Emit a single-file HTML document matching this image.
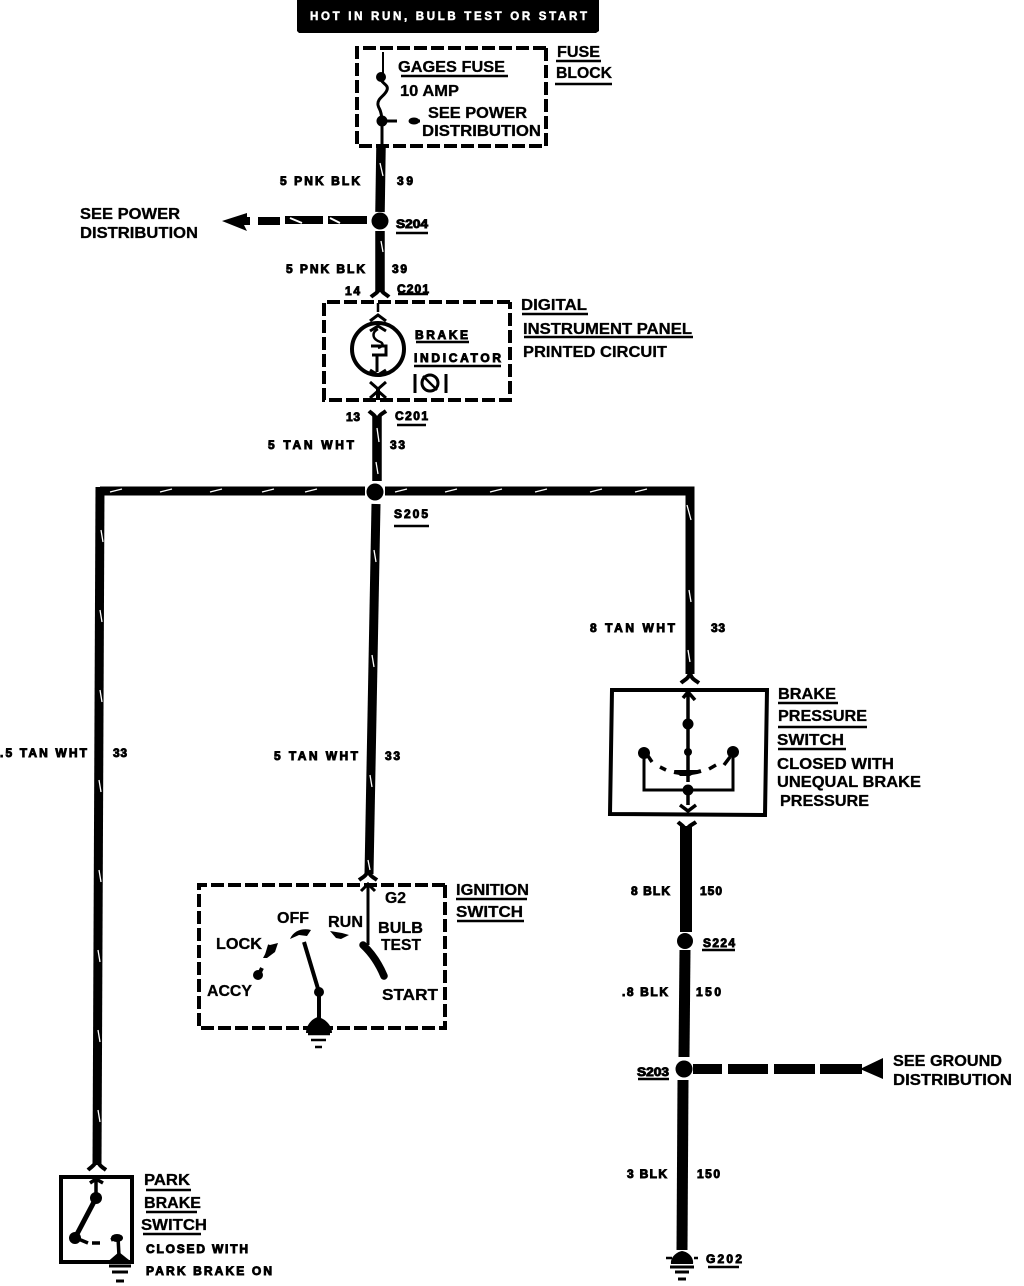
<!DOCTYPE html>
<html><head><meta charset="utf-8"><title>Brake indicator wiring diagram</title>
<style>
html,body{margin:0;padding:0;background:#fff}
svg{display:block}
text{font-family:"Liberation Sans",sans-serif;font-weight:bold;fill:#000;stroke:#000;stroke-width:.3}
.s{font-size:12px;stroke-width:.9}
.m{font-size:16px}
.w{fill:#fff;stroke:#fff;font-size:11.5px;stroke-width:.5}
</style></head><body>
<svg xmlns="http://www.w3.org/2000/svg" width="1024" height="1286" viewBox="0 0 1024 1286">
<rect width="1024" height="1286" fill="#fff"/>
<!-- banner -->
<path d="M297 0H599V31L596 33H299L297 31Z" fill="#000"/>
<text class="w" x="310" y="20" textLength="277" lengthAdjust="spacing">HOT IN RUN, BULB TEST OR START</text>

<g fill="none" stroke="#000" stroke-linecap="butt">
<!-- dashed boxes -->
<path d="M546 48H357V146H546V48" stroke-width="4" stroke-dasharray="13 4"/>
<path d="M510 302H324V400H510V302" stroke-width="4" stroke-dasharray="13 4"/>
<path d="M445 885H199V1028H445V885" stroke-width="4" stroke-dasharray="13 4"/>
<!-- solid boxes -->
<path d="M612 690H767L765 815L610 814Z" stroke-width="4"/>
<path d="M61 1177H132V1262H61Z" stroke-width="4"/>
<!-- wires -->
<path d="M381 146L380 212" stroke-width="9.5"/>
<path d="M380 231V292" stroke-width="9.5"/>
<path d="M377 416V481" stroke-width="9.5"/>
<path d="M100 491H365M385 491H690V674" stroke-width="9"/>
<path d="M100 487L97 1165" stroke-width="9"/>
<path d="M376 504L369 874" stroke-width="9"/>
<path d="M686 826V932" stroke-width="12"/>
<path d="M685 950L684 1057" stroke-width="11"/>
<path d="M683 1080L682 1250" stroke-width="11"/>
<path d="M693 1069H722M728 1069H768M774 1069H815M820 1069H862" stroke-width="10"/>
<!-- dash left -->
<path d="M367 220H328M323 220H285M280 221H258M250 221H240" stroke-width="8"/>
<!-- fuse inner -->
<path d="M383 52V76" stroke-width="2"/>
<path d="M381 78C381 84 389 84 387 90C385 96 377 98 378 105C379 110 381 108 382 120V146" stroke-width="3"/>
<path d="M382 121H397" stroke-width="3"/>
<path d="M409 121H420" stroke-width="3"/>
<!-- indicator -->
<circle cx="378" cy="349" r="26" stroke-width="4"/>
<path d="M370 321L378 315L386 321M370 331L378 326L386 331" stroke-width="3"/>
<path d="M378 303V312M378 329C372 332 372 338 378 341C384 343 384 346 378 348" stroke-width="2.5"/>
<path d="M371 346H386V355H372M377 355V372" stroke-width="3"/>
<path d="M370 370L378 375L386 370M370 382L378 389L386 382M370 398L378 391L386 398" stroke-width="3"/>
<path d="M378 389V400" stroke-width="4"/>
<path d="M415 374V393M446 374V393" stroke-width="3"/>
<circle cx="430" cy="383" r="8" stroke-width="3"/>
<path d="M423 376L437 390" stroke-width="2.5"/>
<!-- forks -->
<path d="M371 297C374 294 379 293 380 286C381 293 386 294 389 297" stroke-width="4"/>
<path d="M369 411C372 414 376 415 377 422C378 415 382 414 386 411" stroke-width="4"/>
<path d="M681 683C684 680 689 679 690 672C691 679 695 680 699 683" stroke-width="4"/>
<path d="M678 822C681 825 685 826 686 833C687 826 692 825 696 822" stroke-width="4"/>
<path d="M359 880C363 877 367 876 368 869C369 876 373 877 377 880" stroke-width="4"/>
<path d="M88 1170C91 1167 96 1165 97 1158C98 1165 102 1167 106 1170" stroke-width="4"/>
<!-- brake switch inside -->
<path d="M683 698L688 692L695 700M688 692V782" stroke-width="3.5"/>
<path d="M644 755V790H733V754" stroke-width="3"/>
<path d="M688 790V805M680 805L688 811L696 805" stroke-width="3.5"/>
<path d="M674 772Q688 775 701 771" stroke-width="4"/>
<path d="M648 756L652 762M660 767L666 770M709 769L716 765M730 757L724 765" stroke-width="3.5"/>
<!-- ignition -->
<path d="M368 884V945" stroke-width="3"/>
<path d="M361 891L368 884L375 891" stroke-width="3"/>
<path d="M363 945Q376 957 384 976" stroke-width="7.5" stroke-linecap="round"/>
<path d="M304 942L319 992V1022" stroke-width="4"/>
<path d="M270 945L267 955M262 968L258 976" stroke-width="4"/>
<!-- park -->
<path d="M90 1183L96 1179L103 1183M96 1179V1197" stroke-width="3.5"/>
<path d="M96 1198L76 1236" stroke-width="5"/>
<path d="M92 1243H100M111 1240L118 1237L119 1256" stroke-width="3.5"/>
<path d="M76 1238L88 1243" stroke-width="3.5"/>
<!-- ground bars -->
<path d="M308 1034H330M311 1040H326M315 1047H322" stroke-width="2.5"/>
<path d="M109 1266H131M112 1272H128M116 1281H124" stroke-width="3"/>
<path d="M670 1267H694M675 1272H689M678 1279H686" stroke-width="3"/>
<path d="M666 1258H672M694 1258H698" stroke-width="2.5"/>
<!-- underlines -->
<path d="M556 61H601M555 84H612M401 76H508M396 233H428M398 294H428M522 314H588M524 337H693M416 342H469M414 366H501M397 425H426M394 526H429M778 703H838M778 727H867M778 749H846M456 899H527M457 921H524M146 1190H191M146 1212H197M143 1234H201M638 1079H669M708 1267H739M702 950H735" stroke-width="2.5"/>
</g>

<g fill="#000">
<circle cx="380" cy="221" r="8.5"/>
<circle cx="375" cy="492" r="8.5"/>
<circle cx="685" cy="941" r="8"/>
<circle cx="684" cy="1069" r="8.5"/>
<path d="M247 213L222 221L247 231L244 225L247 217Z"/>
<path d="M883 1058L860 1069L883 1079Z"/>
<circle cx="381" cy="77" r="5"/>
<circle cx="382" cy="121" r="5.5"/>
<ellipse cx="414" cy="121" rx="5.5" ry="3.5"/>
<circle cx="688" cy="724" r="5.5"/>
<circle cx="688" cy="752" r="4"/>
<circle cx="688" cy="790" r="5.5"/>
<circle cx="644" cy="753" r="6"/>
<circle cx="733" cy="752" r="6"/>
<path d="M674 770H701L690 776H680Z"/>
<path d="M290 939C294 930 303 928 311 930L307 936L299 935Z"/>
<path d="M330 931L342 933L349 935L341 939L336 938Z"/>
<circle cx="319" cy="992" r="5"/>
<path d="M263 958L270 945L278 943L275 952L267 958Z"/>
<circle cx="258" cy="975" r="5"/>
<path d="M318 1017C326 1019 332 1026 332 1033H306C306 1026 311 1019 318 1017Z"/>
<circle cx="96" cy="1198" r="6"/>
<circle cx="75" cy="1238" r="6"/>
<ellipse cx="117" cy="1238" rx="6" ry="4"/>
<path d="M119 1252L134 1264H105Z"/>
<path d="M682 1251C689 1252 694 1258 693 1264H671C670 1258 676 1252 682 1251Z"/>
</g>

<!-- wire flecks -->
<g fill="none" stroke="#fff" stroke-width="1.3">
<path d="M380 163L383 176M381 241L383 252M377 428L379 442M376 462L378 474M110 492L122 489M160 492L172 489M210 492L222 489M262 492L274 489M305 492L317 489M395 492L407 489M445 492L457 489M490 492L502 489M535 492L547 489M590 492L602 489M635 492L647 489M687 505L691 520M689 590L691 602M688 650L690 662M101 530L103 542M100 610L102 622M100 690L102 702M99 780L101 792M99 870L101 882M98 950L100 962M98 1030L100 1042M98 1110L100 1122M374 550L376 562M372 655L374 667M370 775L372 787M368 860L370 870"/>
<path d="M302 223L290 218M340 223L330 218" stroke-width="2"/>
</g>

<!-- labels -->
<text class="m" x="398" y="72" textLength="107" lengthAdjust="spacingAndGlyphs">GAGES FUSE</text>
<text class="m" x="400" y="96" textLength="59" lengthAdjust="spacingAndGlyphs">10 AMP</text>
<text class="m" x="428" y="118" textLength="99" lengthAdjust="spacingAndGlyphs">SEE POWER</text>
<text class="m" x="422" y="136" textLength="119" lengthAdjust="spacingAndGlyphs">DISTRIBUTION</text>
<text class="m" x="557" y="57" textLength="43" lengthAdjust="spacingAndGlyphs">FUSE</text>
<text class="m" x="556" y="78" textLength="56" lengthAdjust="spacingAndGlyphs">BLOCK</text>
<text class="m" x="80" y="219" textLength="100" lengthAdjust="spacingAndGlyphs">SEE POWER</text>
<text class="m" x="80" y="238" textLength="118" lengthAdjust="spacingAndGlyphs">DISTRIBUTION</text>
<text class="m" x="521" y="310" textLength="66" lengthAdjust="spacingAndGlyphs">DIGITAL</text>
<text class="m" x="523" y="334" textLength="169" lengthAdjust="spacingAndGlyphs">INSTRUMENT PANEL</text>
<text class="m" x="523" y="357" textLength="144" lengthAdjust="spacingAndGlyphs">PRINTED CIRCUIT</text>
<text class="m" x="778" y="699" textLength="58" lengthAdjust="spacingAndGlyphs">BRAKE</text>
<text class="m" x="778" y="721" textLength="89" lengthAdjust="spacingAndGlyphs">PRESSURE</text>
<text class="m" x="777" y="745" textLength="67" lengthAdjust="spacingAndGlyphs">SWITCH</text>
<text class="m" x="777" y="769" textLength="117" lengthAdjust="spacingAndGlyphs">CLOSED WITH</text>
<text class="m" x="777" y="787" textLength="144" lengthAdjust="spacingAndGlyphs">UNEQUAL BRAKE</text>
<text class="m" x="780" y="806" textLength="89" lengthAdjust="spacingAndGlyphs">PRESSURE</text>
<text class="m" x="456" y="895" textLength="73" lengthAdjust="spacingAndGlyphs">IGNITION</text>
<text class="m" x="456" y="917" textLength="67" lengthAdjust="spacingAndGlyphs">SWITCH</text>
<text class="m" x="385" y="903" textLength="21" lengthAdjust="spacingAndGlyphs">G2</text>
<text class="m" x="277" y="923" textLength="32" lengthAdjust="spacingAndGlyphs">OFF</text>
<text class="m" x="328" y="927" textLength="35" lengthAdjust="spacingAndGlyphs">RUN</text>
<text class="m" x="378" y="933" textLength="45" lengthAdjust="spacingAndGlyphs">BULB</text>
<text class="m" x="381" y="950" textLength="40" lengthAdjust="spacingAndGlyphs">TEST</text>
<text class="m" x="216" y="949" textLength="46" lengthAdjust="spacingAndGlyphs">LOCK</text>
<text class="m" x="207" y="996" textLength="45" lengthAdjust="spacingAndGlyphs">ACCY</text>
<text class="m" x="382" y="1000" textLength="56" lengthAdjust="spacingAndGlyphs">START</text>
<text class="m" x="144" y="1185" textLength="46" lengthAdjust="spacingAndGlyphs">PARK</text>
<text class="m" x="144" y="1208" textLength="57" lengthAdjust="spacingAndGlyphs">BRAKE</text>
<text class="m" x="141" y="1230" textLength="66" lengthAdjust="spacingAndGlyphs">SWITCH</text>
<text class="m" x="893" y="1066" textLength="109" lengthAdjust="spacingAndGlyphs">SEE GROUND</text>
<text class="m" x="893" y="1085" textLength="119" lengthAdjust="spacingAndGlyphs">DISTRIBUTION</text>

<text class="s" x="146" y="1253" textLength="102" lengthAdjust="spacing">CLOSED WITH</text>
<text class="s" x="146" y="1275" textLength="126" lengthAdjust="spacing">PARK BRAKE ON</text>
<text class="s" x="415" y="339" textLength="53" lengthAdjust="spacing">BRAKE</text>
<text class="s" x="414" y="362" textLength="87" lengthAdjust="spacing">INDICATOR</text>
<text class="s" x="280" y="185" textLength="80" lengthAdjust="spacing">5 PNK BLK</text>
<text class="s" x="397" y="185" textLength="16" lengthAdjust="spacing">39</text>
<text class="s" x="396" y="228" textLength="32" lengthAdjust="spacingAndGlyphs">S204</text>
<text class="s" x="286" y="273" textLength="79" lengthAdjust="spacing">5 PNK BLK</text>
<text class="s" x="392" y="273" textLength="15" lengthAdjust="spacing">39</text>
<text class="s" x="345" y="295" textLength="15" lengthAdjust="spacing">14</text>
<text class="s" x="397" y="293" textLength="32" lengthAdjust="spacing">C201</text>
<text class="s" x="346" y="421" textLength="14" lengthAdjust="spacing">13</text>
<text class="s" x="395" y="420" textLength="33" lengthAdjust="spacing">C201</text>
<text class="s" x="268" y="449" textLength="86" lengthAdjust="spacing">5 TAN WHT</text>
<text class="s" x="390" y="449" textLength="15" lengthAdjust="spacing">33</text>
<text class="s" x="394" y="518" textLength="34" lengthAdjust="spacing">S205</text>
<text class="s" x="590" y="632" textLength="85" lengthAdjust="spacing">8 TAN WHT</text>
<text class="s" x="711" y="632" textLength="14" lengthAdjust="spacing">33</text>
<text class="s" x="0" y="757" textLength="87" lengthAdjust="spacing">.5 TAN WHT</text>
<text class="s" x="113" y="757" textLength="14" lengthAdjust="spacing">33</text>
<text class="s" x="274" y="760" textLength="84" lengthAdjust="spacing">5 TAN WHT</text>
<text class="s" x="385" y="760" textLength="15" lengthAdjust="spacing">33</text>
<text class="s" x="631" y="895" textLength="39" lengthAdjust="spacing">8 BLK</text>
<text class="s" x="700" y="895" textLength="22" lengthAdjust="spacing">150</text>
<text class="s" x="703" y="947" textLength="32" lengthAdjust="spacing">S224</text>
<text class="s" x="622" y="996" textLength="46" lengthAdjust="spacing">.8 BLK</text>
<text class="s" x="696" y="996" textLength="25" lengthAdjust="spacing">150</text>
<text class="s" x="637" y="1076" textLength="32" lengthAdjust="spacingAndGlyphs">S203</text>
<text class="s" x="627" y="1178" textLength="40" lengthAdjust="spacing">3 BLK</text>
<text class="s" x="697" y="1178" textLength="23" lengthAdjust="spacing">150</text>
<text class="s" x="706" y="1263" textLength="36" lengthAdjust="spacing">G202</text>
</svg>
</body></html>
